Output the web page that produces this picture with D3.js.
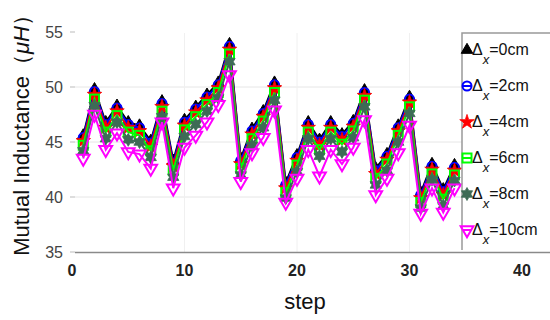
<!DOCTYPE html>
<html>
<head>
<meta charset="utf-8">
<script src="https://cdn.jsdelivr.net/npm/d3@7"></script>
<style>
  body { margin: 0; background: #fff; }
  text { font-family: "Liberation Sans", Arial, sans-serif; }
</style>
</head>
<body>
<script>
// data, one array per offset
const steps = d3.range(1, 35)
const dx0 = [45.6, 49.8, 46.8, 48.3, 46.8, 46.5, 45.1, 48.7, 43.3, 47.0, 48.2, 49.3, 50.4, 53.9, 43.5, 46.2, 47.8, 50.4, 41.3, 43.8, 46.8, 45.2, 46.8, 45.7, 46.9, 49.7, 42.6, 43.9, 46.5, 49.1, 40.4, 43.0, 40.7, 42.9]
const dx2 = [45.4, 49.6, 46.6, 48.1, 46.6, 46.3, 44.9, 48.5, 43.1, 46.8, 48.0, 49.1, 50.2, 53.7, 43.3, 46.0, 47.6, 50.2, 41.1, 43.6, 46.6, 45.0, 46.6, 45.5, 46.7, 49.5, 42.4, 43.7, 46.3, 48.9, 40.2, 42.8, 40.5, 42.7]
const dx4 = [45.1, 49.3, 46.3, 47.8, 46.3, 46.0, 44.6, 48.2, 42.8, 46.5, 47.7, 48.8, 49.9, 53.4, 43.0, 45.7, 47.3, 49.9, 40.8, 43.3, 46.3, 44.7, 46.3, 45.2, 46.4, 49.2, 42.1, 43.4, 46.0, 48.6, 39.9, 42.5, 40.2, 42.4]
const dx6 = [44.7, 48.9, 45.9, 47.4, 45.9, 45.6, 44.2, 47.8, 42.4, 46.1, 47.3, 48.4, 49.5, 53.0, 42.6, 45.3, 46.9, 49.5, 40.4, 42.9, 45.9, 44.3, 45.9, 44.8, 46.0, 48.8, 41.7, 43.0, 45.6, 48.2, 39.5, 42.1, 39.8, 42.0]
const dx8 = [44.2, 48.3, 45.3, 46.8, 45.2, 45.0, 43.6, 47.3, 41.8, 45.5, 46.6, 47.8, 49.0, 52.3, 42.0, 44.7, 46.3, 48.8, 39.9, 42.3, 45.3, 43.7, 45.3, 44.1, 45.4, 48.2, 41.1, 42.4, 45.0, 47.6, 39.0, 41.6, 39.2, 41.5]
const dx10 = [43.5, 47.5, 44.3, 45.8, 44.1, 43.9, 42.6, 46.8, 40.8, 44.5, 45.6, 46.8, 48.4, 51.1, 41.4, 44.0, 45.4, 47.9, 39.5, 41.7, 44.3, 41.9, 44.3, 43.0, 44.5, 47.0, 40.2, 41.7, 44.0, 46.5, 38.5, 40.8, 38.6, 40.8]
const legendLabels = ['=0cm', '=2cm', '=4cm', '=6cm', '=8cm', '=10cm']
const xTicks = [0, 10, 20, 30, 40]
const yTicks = [35, 40, 45, 50, 55]

const series = [
  {values: dx0, color: '#000000', marker: 'triUp'},
  {values: dx2, color: '#0000ff', marker: 'circle'},
  {values: dx4, color: '#ff0000', marker: 'star'},
  {values: dx6, color: '#00ff00', marker: 'square'},
  {values: dx8, color: '#3e6b56', marker: 'hexa'},
  {values: dx10, color: '#ff00ff', marker: 'triDown'}
]

var width = 550
var height = 320

var svg = d3.select('body').append('svg')
    .attr('width', width)
    .attr('height', height)

var x = d3.scaleLinear().domain([0, 40]).range([72, 522])
var y = d3.scaleLinear().domain([35, 55]).range([252, 32])

// grid
svg.append('g').selectAll('line.hgrid')
  .data([40, 45, 50]).enter()
  .append('line')
    .attr('x1', 75).attr('x2', 462)
    .attr('y1', d => y(d)).attr('y2', d => y(d))
    .attr('stroke', '#e6e6e6')
    .attr('stroke-width', 1)

svg.append('g').selectAll('line.vgrid')
  .data([10, 20, 30]).enter()
  .append('line')
    .attr('x1', d => x(d)).attr('x2', d => x(d))
    .attr('y1', 33).attr('y2', 252)
    .attr('stroke', '#f0f0f0')
    .attr('stroke-width', 1)

// x axis line
svg.append('line')
  .attr('x1', 75).attr('x2', 550)
  .attr('y1', 252.5).attr('y2', 252.5)
  .attr('stroke', '#8a8a8a')
  .attr('stroke-width', 1.5)

// y ticks
var yAxis = svg.append('g')
yAxis.selectAll('line')
  .data(yTicks).enter()
  .append('line')
    .attr('x1', 70).attr('x2', 75)
    .attr('y1', d => y(d)).attr('y2', d => y(d))
    .attr('stroke', '#bbb')
yAxis.selectAll('text')
  .data(yTicks).enter()
  .append('text')
    .attr('x', 63)
    .attr('y', d => y(d) + 6)
    .attr('text-anchor', 'end')
    .attr('font-size', 16)
    .attr('fill', '#444')
    .text(d => d)

// x ticks
svg.append('g').selectAll('text')
  .data(xTicks).enter()
  .append('text')
    .attr('x', d => x(d))
    .attr('y', 276)
    .attr('text-anchor', 'middle')
    .attr('font-size', 16)
    .attr('font-weight', 'bold')
    .attr('fill', '#222')
    .text(d => d)

// axis titles
svg.append('text')
  .attr('x', 305).attr('y', 309)
  .attr('text-anchor', 'middle')
  .attr('font-size', 22)
  .attr('fill', '#111')
  .text('step')

var ylab = svg.append('text')
  .attr('transform', 'translate(29,130) rotate(-90)')
  .attr('text-anchor', 'middle')
  .attr('font-size', 22)
  .attr('fill', '#111')
ylab.append('tspan').text('Mutual Inductance（')
ylab.append('tspan').attr('font-style', 'italic').text('μH')
ylab.append('tspan').text('）')

// markers
const hexagram = (r) => {
  var pts = []
  for (var i = 0; i < 12; i++) {
    var a = Math.PI / 6 * i - Math.PI / 2
    var rr = i % 2 === 0 ? r : r * 0.58
    pts.push([rr * Math.cos(a), rr * Math.sin(a)])
  }
  return 'M' + pts.map(p => p.join(',')).join('L') + 'Z'
}

function drawMarker (g, type, color) {
  if (type === 'triUp') {
    g.append('path').attr('d', d3.symbol(d3.symbolTriangle, 58)())
      .attr('fill', color).attr('stroke', color).attr('stroke-width', 1)
  } else if (type === 'circle') {
    g.append('circle').attr('r', 4.5)
      .attr('fill', 'none').attr('stroke', color).attr('stroke-width', 2)
  } else if (type === 'star') {
    g.append('path').attr('d', d3.symbol(d3.symbolStar, 65)())
      .attr('fill', color).attr('stroke', color).attr('stroke-width', 0.8)
  } else if (type === 'square') {
    g.append('rect').attr('x', -4.5).attr('y', -4.5).attr('width', 9).attr('height', 9)
      .attr('fill', 'none').attr('stroke', color).attr('stroke-width', 2)
  } else if (type === 'hexa') {
    g.append('path').attr('d', hexagram(6.5))
      .attr('fill', color).attr('stroke', color).attr('stroke-width', 0.8)
  } else if (type === 'triDown') {
    g.append('path').attr('d', d3.symbol(d3.symbolTriangle, 70)())
      .attr('transform', 'rotate(180)')
      .attr('fill', 'none').attr('stroke', color).attr('stroke-width', 2)
  }
}

var line = d3.line()
  .x((d, i) => x(steps[i]))
  .y(d => y(d))

series.forEach(s => {
  var g = svg.append('g')
  g.append('path')
    .attr('d', line(s.values))
    .attr('fill', 'none')
    .attr('stroke', s.color)
    .attr('stroke-width', 2)
  g.selectAll('g.pt')
    .data(s.values).enter()
    .append('g')
      .attr('transform', (d, i) => 'translate(' + x(steps[i]) + ',' + y(d) + ')')
      .each(function () { drawMarker(d3.select(this), s.marker, s.color) })
})

// legend
var legend = svg.append('g')
legend.append('path')
  .attr('d', 'M462,250V33H550')
  .attr('fill', 'none')
  .attr('stroke', '#999')
  .attr('stroke-width', 1.5)

series.forEach((s, i) => {
  var ly = 50 + i * 36
  var item = legend.append('g')
  item.append('line')
    .attr('x1', 463).attr('x2', 471)
    .attr('y1', ly).attr('y2', ly)
    .attr('stroke', s.color).attr('stroke-width', 2)
  var m = item.append('g').attr('transform', 'translate(467,' + ly + ')')
  drawMarker(m, s.marker, s.color)
  var t = item.append('text')
    .attr('x', 472).attr('y', ly + 5)
    .attr('font-size', 16)
    .attr('fill', '#111')
  t.append('tspan').text('Δ')
  t.append('tspan').attr('font-style', 'italic').attr('font-size', 13).attr('dy', 9).text('x')
  t.append('tspan').attr('dy', -9).text(legendLabels[i])
})
</script>
</body>
</html>
